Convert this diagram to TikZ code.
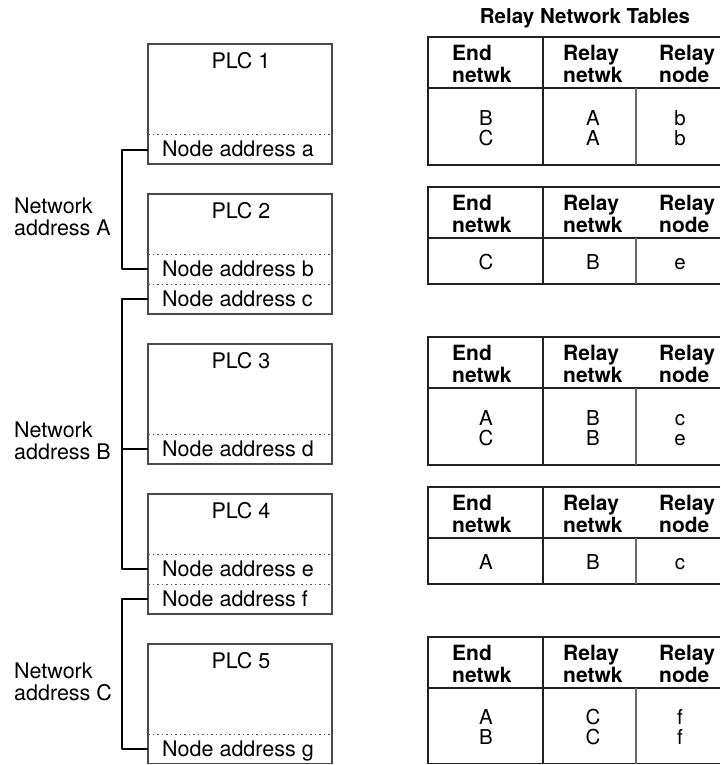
\documentclass[tikz,border=0pt]{standalone}
\usepackage{fontspec}
\setmainfont{TeX Gyre Heros}
\definecolor{boxgray}{HTML}{4A4A4A}
\definecolor{dotgray}{HTML}{555555}
\definecolor{tblink}{HTML}{222222}
\definecolor{tblink2}{HTML}{666666}
\newcommand{\rline}[1]{\vphantom{Ab}#1}
\newcommand{\RelayTbl}[7]{%
  \draw[tblline] (720,#2) -- (428,#2) -- (428,#4) -- (720,#4);
  \draw[tblline] (428,#3) -- (720,#3);
  \draw[tblline] (543,#2) -- (543,#4);
  \draw[tblline2] (636,#3) -- (636,#4);
  \node[hdrtxt] (#1h1) at (452,#2+27) {End\\netwk};
  \node[hdrtxt] (#1h2) at (563,#2+27) {Relay\\netwk};
  \node[hdrtxt] (#1h3) at (659,#2+27) {Relay\\node};
  \node[bodytxt] (#1b1) at (486,{(#3+#4)/2+1.5}) {#5};
  \node[bodytxt] (#1b2) at (593,{(#3+#4)/2+1.5}) {#6};
  \node[bodytxt] (#1b3) at (680,{(#3+#4)/2+1.5}) {#7};
}
\begin{document}
\begin{tikzpicture}[x=1pt,y=-1pt,
  plcbox/.style={draw=boxgray, line width=1.1pt, rectangle},
  sepline/.style={draw=dotgray, line width=0.9pt, dash pattern=on 1.5pt off 3pt},
  addrtxt/.style={anchor=base west, inner sep=0pt, font=\fontsize{21.5}{22}\selectfont},
  plctxt/.style={anchor=base, inner sep=0pt, font=\fontsize{21.5}{22}\selectfont},
  nettxt/.style={anchor=west, inner sep=0pt, align=left, font=\fontsize{21.5}{22}\selectfont},
  bus/.style={line width=2.8pt, black, line join=round},
  tblline/.style={draw=tblink, line width=1.3pt},
  tblline2/.style={draw=tblink2, line width=1.2pt},
  hdrtxt/.style={anchor=west, inner sep=0pt, align=left, font=\fontsize{21}{22}\selectfont\bfseries},
  bodytxt/.style={anchor=center, inner sep=0pt, align=center, font=\fontsize{20.5}{20}\selectfont},
  titletxt/.style={anchor=base, inner sep=0pt, font=\fontsize{20.5}{22}\selectfont\bfseries}
]
\useasboundingbox (0,0) rectangle (720,765);

% PLC boxes
\draw[plcbox] (148,44) rectangle (332,164);
\draw[plcbox] (148,194) rectangle (332,314);
\draw[plcbox] (148,344) rectangle (332,464);
\draw[plcbox] (148,494) rectangle (332,614);
\draw[plcbox] (148,644) rectangle (332,763.5);

% dotted separators
\draw[sepline] (148,134) -- (332,134);
\draw[sepline] (148,254) -- (332,254);
\draw[sepline] (148,284) -- (332,284);
\draw[sepline] (148,434) -- (332,434);
\draw[sepline] (148,554) -- (332,554);
\draw[sepline] (148,584) -- (332,584);
\draw[sepline] (148,734) -- (332,734);

% PLC labels
\node[plctxt] (plc1) at (241,68.3) {PLC 1};
\node[plctxt] (plc2) at (241,218.3) {PLC 2};
\node[plctxt] (plc3) at (241,368.3) {PLC 3};
\node[plctxt] (plc4) at (241,518.3) {PLC 4};
\node[plctxt] (plc5) at (241,668.3) {PLC 5};

% node addresses
\node[addrtxt] (na) at (162,156.7) {Node address a};
\node[addrtxt] (nb) at (162,276.7) {Node address b};
\node[addrtxt] (nc) at (162,306.7) {Node address c};
\node[addrtxt] (nd) at (162,456.7) {Node address d};
\node[addrtxt] (ne) at (162,576.7) {Node address e};
\node[addrtxt] (nf) at (162,606.7) {Node address f};
\node[addrtxt] (ng) at (162,756.7) {Node address g};

% connection points on the box borders
\coordinate (pa) at (148,150);
\coordinate (pb) at (148,269);
\coordinate (pc) at (148,299);
\coordinate (pd) at (148,449);
\coordinate (pe) at (148,569);
\coordinate (pf) at (148,599);
\coordinate (pg) at (148,749);

% network buses
\draw[bus] (pa) -- ++(-26,0) |- (pb);
\draw[bus] (pc) -- ++(-26,0) |- (pe);
\draw[bus] (pd) -- ++(-26,0);
\draw[bus] (pf) -- ++(-26,0) |- (pg);

% network labels
\node[nettxt] (netA) at (14,217) {Network\\address A};
\node[nettxt] (netB) at (14,441) {Network\\address B};
\node[nettxt] (netC) at (14,682) {Network\\address C};

% title
\node[titletxt] (title) at (585,23.5) {Relay Network Tables};

% tables
\RelayTbl{ta}{37}{88}{165}{\rline{B}\\\rline{C}}{\rline{A}\\\rline{A}}{\rline{b}\\\rline{b}}
\RelayTbl{tb}{187}{238}{284}{\rline{C}}{\rline{B}}{\rline{e}}
\RelayTbl{tc}{337}{388}{465}{\rline{A}\\\rline{C}}{\rline{B}\\\rline{B}}{\rline{c}\\\rline{e}}
\RelayTbl{td}{487}{538}{584}{\rline{A}}{\rline{B}}{\rline{c}}
\RelayTbl{te}{637}{688}{763.5}{\rline{A}\\\rline{B}}{\rline{C}\\\rline{C}}{\rline{f}\\\rline{f}}
\end{tikzpicture}
\end{document}
